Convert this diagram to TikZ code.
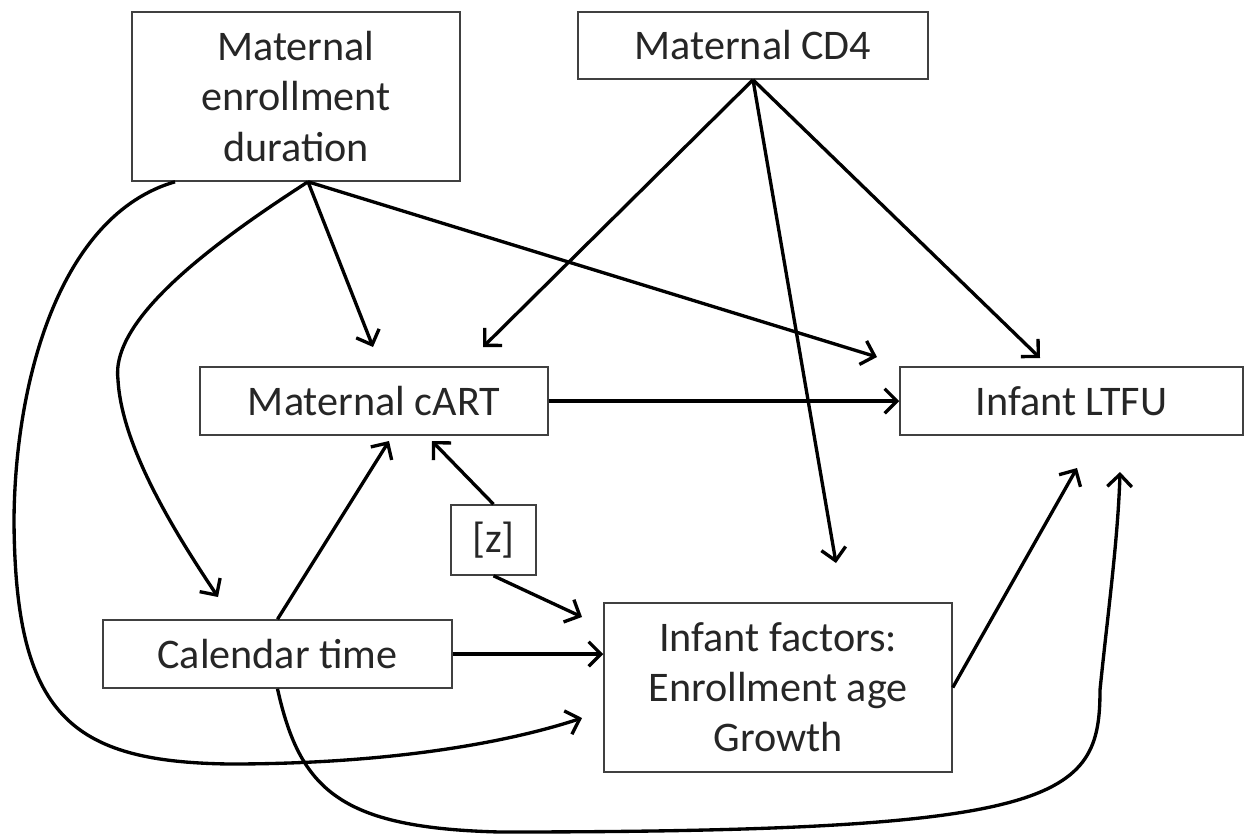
\documentclass[tikz,border=0pt]{standalone}
\usepackage{fontspec}
\setmainfont{Carlito}
\usetikzlibrary{arrows.meta}

\begin{document}
\begin{tikzpicture}[x=0.02cm, y=-0.02cm,
   box/.style={draw=black!75, line width=0.9pt, align=center, inner sep=0pt,
     text=black!85, font=\fontsize{24}{28.5}\selectfont},
   arr/.style={line width=1.9pt, -{Straight Barb[length=7pt,width=14pt]}}]
   \useasboundingbox (0,0) rectangle (1247,836);
   % boxes
   \node[box, minimum width=6.56cm, minimum height=3.38cm] (med) at (296,96.5) {Maternal\\enrollment\\duration};
   \node[box, minimum width=7.00cm, minimum height=1.34cm] (cd4) at (753,45.5) {Maternal CD4};
   \node[box, minimum width=6.96cm, minimum height=1.36cm] (cart) at (374,401) {Maternal cART};
   \node[box, minimum width=6.86cm, minimum height=1.36cm] (ltfu) at (1071.5,401) {Infant LTFU};
   \node[box, minimum width=1.70cm, minimum height=1.40cm] (z) at (493.5,540) {[z]};
   \node[box, minimum width=6.98cm, minimum height=1.36cm] (cal) at (277.5,654) {Calendar time};
   \node[box, minimum width=6.96cm, minimum height=3.38cm] (inf) at (778,687.5) {Infant factors:\\Enrollment age\\Growth};
   % free arrow ends
   \coordinate (medtip1) at (373,347);
   \coordinate (medtip2) at (877,357);
   \coordinate (medtip3) at (218,597);
   \coordinate (medtip4) at (582,718);
   \coordinate (cdtip1) at (483,347);
   \coordinate (cdtip2) at (836,563);
   \coordinate (cdtip3) at (1040,358);
   \coordinate (caltip1) at (389,441);
   \coordinate (caltip2) at (1120,472);
   \coordinate (ztip1) at (432,441);
   \coordinate (ztip2) at (582,617);
   \coordinate (inftip) at (1077,468);
   % maternal enrollment duration
   \draw[arr] ([xshift=0.24cm]med.south) -- (medtip1);
   \draw[arr] ([xshift=0.24cm]med.south) -- (medtip2);
   \draw[arr] ([xshift=0.24cm]med.south) .. controls (210,245) and (110,320) .. (118,380)
      .. controls (122,450) and (180,540) .. (medtip3);
   \draw[arr] ([xshift=-2.42cm]med.south) .. controls (60,215) and (15,380) .. (14,520)
      .. controls (15,715) and (70,762) .. (230,764)
      .. controls (380,764) and (500,745) .. (medtip4);
   % maternal CD4
   \draw[arr] (cd4.south) -- (cdtip1);
   \draw[arr] (cd4.south) -- (cdtip2);
   \draw[arr] (cd4.south) -- (cdtip3);
   % the rest
   \draw[arr] (cart.east) -- (ltfu.west);
   \draw[arr] (z.north) -- (ztip1);
   \draw[arr] (z.south) -- (ztip2);
   \draw[arr] (cal.north) -- (caltip1);
   \draw[arr] (cal.east) -- (cal.east -| inf.west);
   \draw[arr] (cal.south) .. controls (300,790) and (340,828) .. (500,832)
      .. controls (1060,832) and (1100,800) .. (1100,690)
      .. controls (1107,620) and (1118,540) .. (caltip2);
   \draw[arr] (inf.east) -- (inftip);
\end{tikzpicture}
\end{document}
